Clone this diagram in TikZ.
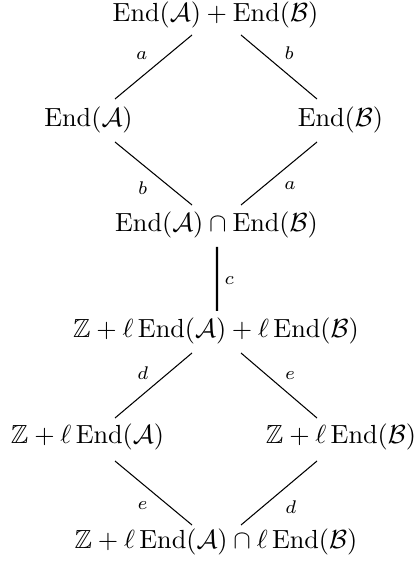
\documentclass[tikz,border=0pt]{standalone}
\usepackage{amsmath,amssymb}
\DeclareMathOperator{\End}{End}
\begin{document}
\begin{tikzpicture}[x=0.3817pt,y=-0.3817pt,
  obj/.style={anchor=base,inner sep=0pt,outer sep=0pt},
  lab/.style={anchor=base,inner sep=0pt,font=\scriptsize},
  conn/.style={line width=0.4pt},
  thickconn/.style={line width=0.8pt}]
\useasboundingbox (0,0) rectangle (416,565);
% objects
\node[obj] (top) at (215.5,21.8)  {$\End(\mathcal{A})+\End(\mathcal{B})$};
\node[obj] (A)   at (88.5,126.5) {$\End(\mathcal{A})$};
\node[obj] (B)   at (340.5,126.5) {$\End(\mathcal{B})$};
\node[obj] (I)   at (216.5,232) {$\End(\mathcal{A})\cap\End(\mathcal{B})$};
\node[obj] (Z)   at (216,337.5) {$\mathbb{Z}+\ell\End(\mathcal{A})+\ell\End(\mathcal{B})$};
\node[obj] (ZA)  at (87.5,443) {$\mathbb{Z}+\ell\End(\mathcal{A})$};
\node[obj] (ZB)  at (341,443) {$\mathbb{Z}+\ell\End(\mathcal{B})$};
\node[obj] (bot) at (216,548.5) {$\mathbb{Z}+\ell\End(\mathcal{A})\cap\ell\End(\mathcal{B})$};
% connectors
\draw[conn] ([shift={(-23.5,13.2)}]top.base) -- ([shift={(26.5,-27.5)}]A.base);
\draw[conn] ([shift={(25.5,13.2)}]top.base) -- ([shift={(-23.5,-27.5)}]B.base);
\draw[conn] ([shift={(26.5,15.5)}]A.base) -- ([shift={(-24.5,-27)}]I.base);
\draw[conn] ([shift={(-23.5,15.5)}]B.base) -- ([shift={(24.5,-27)}]I.base);
\draw[thickconn] ([shift={(0.5,15)}]I.base) -- ([shift={(1,-26.5)}]Z.base);
\draw[conn] ([shift={(-24,15.5)}]Z.base) -- ([shift={(27.5,-25)}]ZA.base);
\draw[conn] ([shift={(25,15.5)}]Z.base) -- ([shift={(-24,-25)}]ZB.base);
\draw[conn] ([shift={(27.5,18)}]ZA.base) -- ([shift={(-24,-23.5)}]bot.base);
\draw[conn] ([shift={(-24,18)}]ZB.base) -- ([shift={(25,-23.5)}]bot.base);
% labels
\node[lab] (la1) at (141.7,59.3) {$a$};
\node[lab] (lb1) at (289.3,59.3) {$b$};
\node[lab] (lb2) at (142.7,195) {$b$};
\node[lab] (la2) at (290,189.3) {$a$};
\node[lab] (lc)  at (229.3,284.3) {$c$};
\node[lab] (ld1) at (142.7,379.3) {$d$};
\node[lab] (le1) at (290,379.3) {$e$};
\node[lab] (le2) at (142.7,509.3) {$e$};
\node[lab] (ld2) at (290.7,513.3) {$d$};
\end{tikzpicture}
\end{document}
